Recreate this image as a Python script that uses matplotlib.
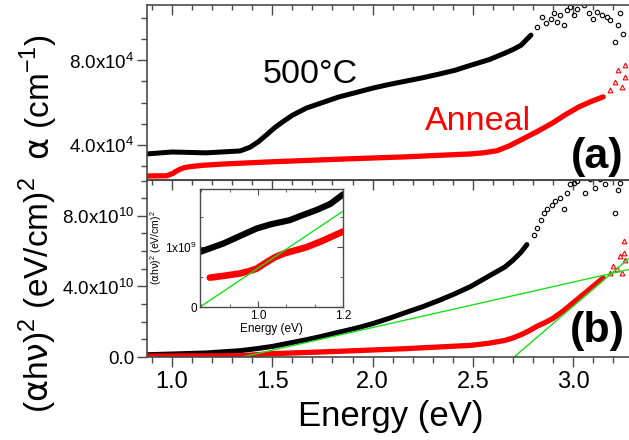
import numpy as np
import matplotlib.pyplot as plt
from matplotlib.ticker import MultipleLocator, FixedLocator, FixedFormatter

plt.rcParams['font.family'] = ['Liberation Sans', 'DejaVu Sans']
plt.rcParams['mathtext.fontset'] = 'custom'
plt.rcParams['mathtext.rm'] = 'Liberation Sans'
plt.rcParams['mathtext.it'] = 'DejaVu Sans'   # greek letters, upright
plt.rcParams['mathtext.bf'] = 'Liberation Sans:bold'

# ---- data ----
# (a) absorption coefficient, dense part
e_500 = [0.876, 1.0, 1.17, 1.34, 1.39, 1.43, 1.47, 1.51, 1.55, 1.60, 1.67, 1.75, 1.83, 1.92,
         2.0, 2.08, 2.16, 2.25, 2.33, 2.41, 2.49, 2.58, 2.66, 2.70, 2.74, 2.79]
a_500 = [3.58e4, 3.67e4, 3.63e4, 3.72e4, 3.9e4, 4.15e4, 4.47e4, 4.8e4, 5.08e4, 5.4e4, 5.74e4,
         6.0e4, 6.26e4, 6.48e4, 6.68e4, 6.85e4, 7.0e4, 7.17e4, 7.34e4, 7.52e4, 7.76e4, 8.02e4,
         8.33e4, 8.5e4, 8.7e4, 9.18e4]
# (a) noisy tail of 500C
e_500_tail = [2.822, 2.847, 2.863, 2.888, 2.904, 2.921, 2.937, 2.954, 2.970, 2.987, 3.003, 3.020,
              3.053, 3.078, 3.102, 3.119, 3.144, 3.168, 3.185, 3.21, 3.226, 3.234, 3.251]
a_500_tail = [9.57e4, 1.004e5, 9.73e4, 9.96e4, 1.02e5, 9.8e4, 1.012e5, 9.65e4, 1.035e5, 1.05e5,
              1.012e5, 1.043e5, 1.059e5, 1.02e5, 9.96e4, 1.027e5, 1.012e5, 1.004e5, 9.88e4,
              8.86e4, 9.65e4, 1.02e5, 9.25e4]

e_ann = [0.876, 0.974, 1.006, 1.02, 1.04, 1.06, 1.09, 1.15, 1.25, 1.5, 1.83, 2.16, 2.49, 2.56,
         2.62, 2.68, 2.74, 2.82, 2.9, 2.96, 3.03, 3.09, 3.15]
a_ann = [2.54e4, 2.55e4, 2.67e4, 2.76e4, 2.86e4, 2.93e4, 2.98e4, 3.04e4, 3.1e4, 3.21e4, 3.33e4,
         3.44e4, 3.58e4, 3.64e4, 3.73e4, 3.95e4, 4.24e4, 4.63e4, 5.05e4, 5.42e4, 5.8e4, 6.05e4,
         6.27e4]
e_ann_tail = [3.185, 3.21, 3.226, 3.243, 3.26, 3.26]
a_ann_tail = [6.59e4, 6.98e4, 7.53e4, 6.72e4, 7.19e4, 7.76e4]

# (b) (alpha h nu)^2
e_b500 = [0.876, 1.0, 1.17, 1.34, 1.42, 1.5, 1.58, 1.67, 1.75, 1.83, 1.92, 2.0, 2.08, 2.16,
          2.25, 2.33, 2.41, 2.49, 2.57, 2.66, 2.70, 2.74, 2.77]
t_b500 = [0.13e10, 0.17e10, 0.23e10, 0.36e10, 0.47e10, 0.6e10, 0.78e10, 0.98e10, 1.18e10,
          1.4e10, 1.64e10, 1.89e10, 2.18e10, 2.5e10, 2.85e10, 3.2e10, 3.58e10, 4.0e10,
          4.52e10, 5.1e10, 5.48e10, 5.93e10, 6.37e10]
e_b500_tail = [2.805, 2.822, 2.838, 2.855, 2.871, 2.896, 2.912, 2.937, 2.954, 2.97, 2.987, 3.003,
               3.02, 3.061, 3.086, 3.111, 3.135, 3.16, 3.185, 3.21, 3.226, 3.234]
t_b500_tail = [6.94e10, 7.32e10, 7.79e10, 8.17e10, 8.36e10, 8.64e10, 8.83e10, 9.02e10, 8.36e10,
               9.3e10, 9.78e10, 9.87e10, 9.96e10, 9.3e10, 1.006e11, 9.59e10, 1.006e11, 9.78e10,
               1.015e11, 8.17e10, 9.49e10, 9.87e10]

e_bann = [0.876, 1.34, 1.5, 1.83, 2.16, 2.49, 2.58, 2.66, 2.70, 2.74, 2.78, 2.82, 2.86, 2.9,
          2.95, 2.99, 3.03, 3.07, 3.11, 3.15]
t_bann = [0.05e10, 0.07e10, 0.19e10, 0.32e10, 0.47e10, 0.66e10, 0.78e10, 0.94e10, 1.08e10,
          1.26e10, 1.48e10, 1.74e10, 1.95e10, 2.19e10, 2.6e10, 2.97e10, 3.35e10, 3.72e10,
          4.1e10, 4.48e10]
e_bann_tail = [3.185, 3.201, 3.218, 3.234, 3.243, 3.254, 3.26, 3.254]
t_bann_tail = [4.77e10, 5.14e10, 4.96e10, 5.71e10, 4.77e10, 5.9e10, 5.52e10, 6.56e10]

# linear fits (end points)
fit1_e = [1.35, 3.31]
fit1_t = [0.0, 5.04e10]
fit2_e = [2.706, 3.31]
fit2_t = [0.0, 5.9e10]

# inset
e_in500 = [0.864, 0.919, 0.95, 0.997, 1.03, 1.075, 1.1, 1.138, 1.17, 1.2]
t_in500 = [0.92e9, 1.06e9, 1.16e9, 1.31e9, 1.38e9, 1.45e9, 1.52e9, 1.62e9, 1.72e9, 1.88e9]
e_inann = [0.887, 0.92, 0.958, 0.98, 0.997, 1.01, 1.028, 1.04, 1.06, 1.08, 1.115, 1.15, 1.2]
t_inann = [0.49e9, 0.52e9, 0.56e9, 0.6e9, 0.64e9, 0.7e9, 0.78e9, 0.83e9, 0.89e9, 0.93e9,
           1.0e9, 1.1e9, 1.26e9]
fit_in_e = [0.864, 1.2]
fit_in_t = [0.0, 1.6e9]

W, H = 629, 440
GRAY = '#4a4a4a'
GREEN = '#19e019'


def box(x0, y0, x1, y1):
    return [x0 / W, 1 - y1 / H, (x1 - x0) / W, (y1 - y0) / H]


fig = plt.figure(figsize=(W / 100, H / 100), dpi=100)
ax_a = fig.add_axes(box(147, 5, 635, 180))
ax_b = fig.add_axes(box(147, 180, 635, 357))
ax_in = fig.add_axes(box(200, 189, 343, 307))

xmin, xmax = 0.875, 3.309

# ---- panel (a) ----
ax_a.plot(e_500, a_500, color='k', lw=3.6, solid_capstyle='round', solid_joinstyle='round')
ax_a.plot(e_500_tail, a_500_tail, 'o', mfc='none', mec='k', ms=3.2, mew=0.8)
ax_a.plot(e_ann, a_ann, color='red', lw=3.8, solid_capstyle='round', solid_joinstyle='round')
ax_a.plot(e_ann_tail, a_ann_tail, '^', mfc='none', mec='red', ms=3.4, mew=0.8)
ax_a.set_xlim(xmin, xmax)
ax_a.set_ylim(2.35e4, 1.06e5)
ax_a.yaxis.set_major_locator(FixedLocator([4e4, 8e4]))
ax_a.yaxis.set_major_formatter(FixedFormatter(['4.0x10$^{4}$', '8.0x10$^{4}$']))
ax_a.yaxis.set_minor_locator(MultipleLocator(1e4))
ax_a.xaxis.set_major_locator(MultipleLocator(0.5))
ax_a.xaxis.set_minor_locator(MultipleLocator(0.1))
ax_a.tick_params(axis='x', which='both', direction='in', top=True, bottom=False,
                 labelbottom=False, color=GRAY)
ax_a.tick_params(axis='x', which='major', length=7, width=1)
ax_a.tick_params(axis='x', which='minor', length=3.5, width=1)
ax_a.tick_params(axis='y', which='both', direction='out', left=True, right=False,
                 labelsize=13.5, color=GRAY, pad=2)
ax_a.tick_params(axis='y', which='major', length=7, width=1)
ax_a.tick_params(axis='y', which='minor', length=4, width=1)
ax_a.text(0.334, 0.554, '500°C', transform=ax_a.transAxes, fontsize=24.5,
          ha='center', va='baseline')
ax_a.text(0.678, 0.286, 'Anneal', transform=ax_a.transAxes, fontsize=24.5,
          color='red', ha='center', va='baseline')
ax_a.text(0.922, 0.131, '(a)', transform=ax_a.transAxes, fontsize=31,
          fontweight='bold', ha='center', va='center')

# ---- panel (b) ----
ax_b.plot(e_b500, t_b500, color='k', lw=3.6, solid_capstyle='round', solid_joinstyle='round')
ax_b.plot(e_b500_tail, t_b500_tail, 'o', mfc='none', mec='k', ms=3.2, mew=0.8)
ax_b.plot(e_bann, t_bann, color='red', lw=3.8, solid_capstyle='round', solid_joinstyle='round')
ax_b.plot(e_bann_tail, t_bann_tail, '^', mfc='none', mec='red', ms=3.4, mew=0.8)
ax_b.plot(fit1_e, fit1_t, color=GREEN, lw=1.0)
ax_b.plot(fit2_e, fit2_t, color=GREEN, lw=1.0)
ax_b.set_xlim(xmin, xmax)
ax_b.set_ylim(0, 1.003e11)
ax_b.yaxis.set_major_locator(FixedLocator([0, 4e10, 8e10]))
ax_b.yaxis.set_major_formatter(FixedFormatter(['0.0', '4.0x10$^{10}$', '8.0x10$^{10}$']))
ax_b.yaxis.set_minor_locator(MultipleLocator(1e10))
ax_b.set_xticks([1.0, 1.5, 2.0, 2.5, 3.0], ['1.0', '1.5', '2.0', '2.5', '3.0'])
ax_b.xaxis.set_minor_locator(MultipleLocator(0.1))
ax_b.tick_params(axis='x', which='both', direction='out', top=False, bottom=True,
                 labelsize=17, color=GRAY, pad=3)
ax_b.tick_params(axis='x', which='major', length=7, width=1)
ax_b.tick_params(axis='x', which='minor', length=4, width=1)
ax_b.tick_params(axis='y', which='both', direction='out', left=True, right=False,
                 labelsize=13.5, color=GRAY, pad=2)
ax_b.tick_params(axis='y', which='major', length=7, width=1)
ax_b.tick_params(axis='y', which='minor', length=4, width=1)
top = ax_b.secondary_xaxis('top')
top.xaxis.set_major_locator(MultipleLocator(0.5))
top.xaxis.set_minor_locator(MultipleLocator(0.1))
top.tick_params(axis='x', which='both', direction='in', labeltop=False, color=GRAY)
top.tick_params(axis='x', which='major', length=7, width=1)
top.tick_params(axis='x', which='minor', length=3.5, width=1)
top.spines['top'].set_color(GRAY)
ax_b.set_xlabel('Energy (eV)', fontsize=25, labelpad=5)
ax_b.text(0.922, 0.147, '(b)', transform=ax_b.transAxes, fontsize=31,
          fontweight='bold', ha='center', va='center')

for ax in (ax_a, ax_b):
    for s in ax.spines.values():
        s.set_color(GRAY)
        s.set_linewidth(1.2)

fig.text(39 / W, 1 - 97 / H, r'$\alpha$ (cm$^{-1}$)', rotation=90, fontsize=24,
         ha='center', va='center')
fig.text(38 / W, 1 - 295 / H, r'($\alpha$h$\nu$)$^{2}$ (eV/cm)$^{2}$', rotation=90,
         fontsize=24, ha='center', va='center')

# ---- inset ----
ax_in.plot(e_in500, t_in500, color='k', lw=4.5, solid_capstyle='round', solid_joinstyle='round')
ax_in.plot(e_inann, t_inann, color='red', lw=4.8, solid_capstyle='round', solid_joinstyle='round')
ax_in.plot(fit_in_e, fit_in_t, color=GREEN, lw=1.0)
ax_in.set_xlim(0.864, 1.2)
ax_in.set_ylim(0, 1.97e9)
ax_in.set_xticks([1.0, 1.2], ['1.0', '1.2'])
ax_in.xaxis.set_minor_locator(MultipleLocator(0.2 / 3))
ax_in.set_yticks([0, 1e9], ['0', '1x10$^{9}$'])
ax_in.yaxis.set_minor_locator(MultipleLocator(0.5e9))
ax_in.tick_params(which='both', direction='in', top=True, right=True, labelsize=8.5,
                  color=GRAY, pad=2)
ax_in.tick_params(which='major', length=4)
ax_in.tick_params(which='minor', length=2.5)
for s in ax_in.spines.values():
    s.set_color(GRAY)
    s.set_linewidth(1.0)
ax_in.set_xlabel('Energy (eV)', fontsize=8.5, labelpad=1)
ax_in.set_ylabel(r'($\alpha$h$\nu$)$^{2}$ (eV/cm)$^{2}$', fontsize=7.5, labelpad=1)

fig.savefig('out.png', dpi=100)
